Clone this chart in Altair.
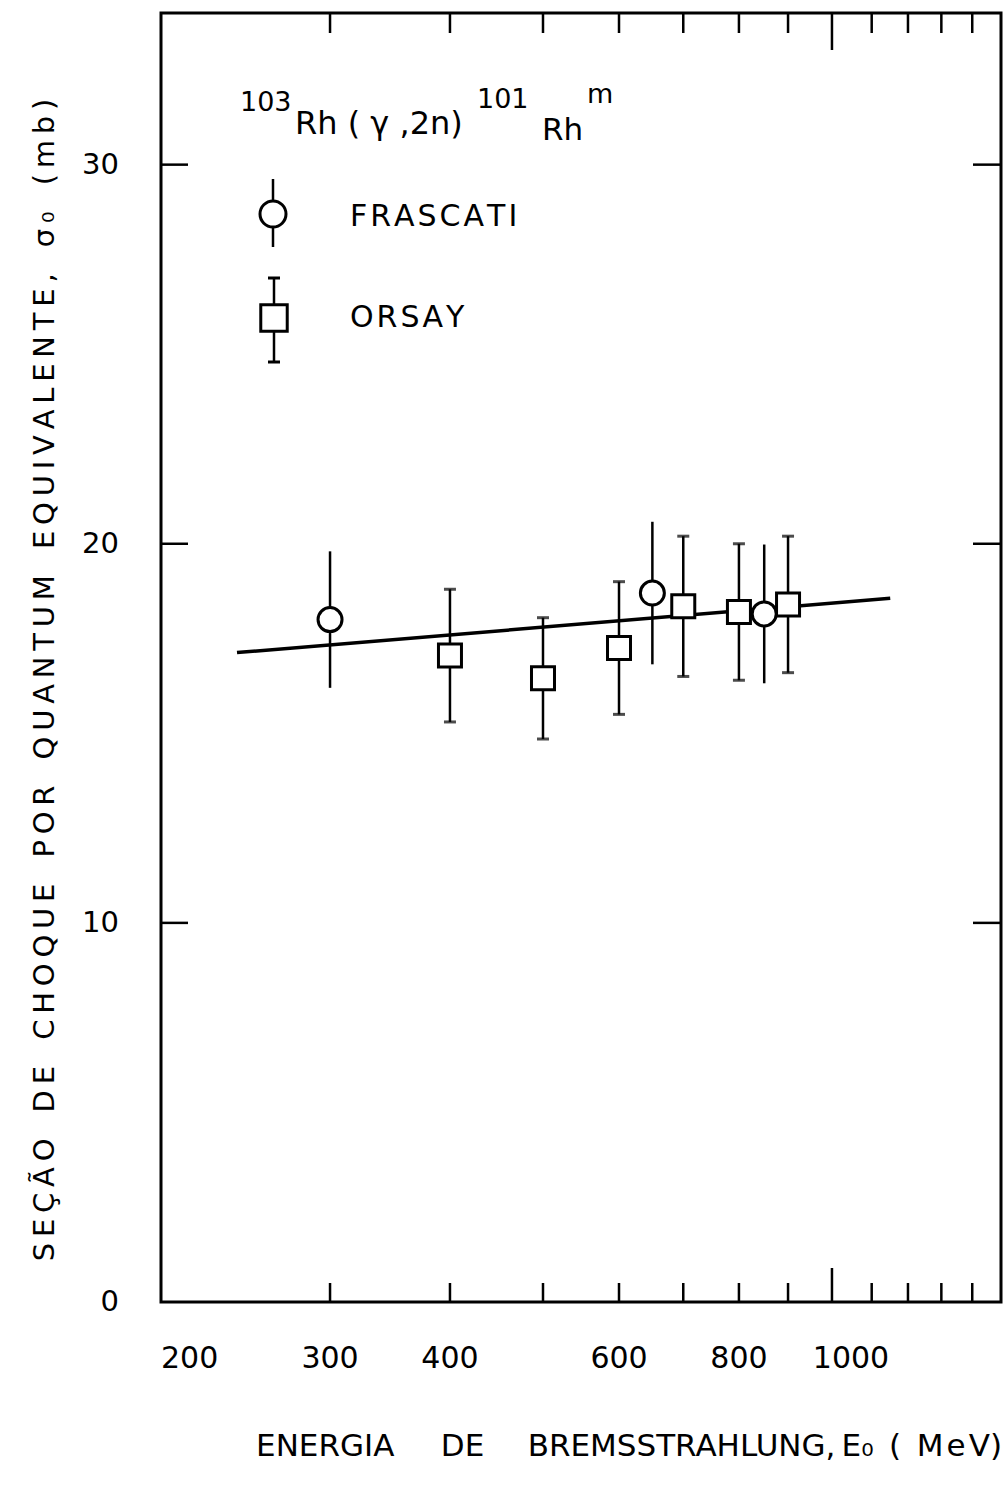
import altair as alt
import pandas as pd

# ---- data ----
fr_energy = [300, 650, 850]
fr_sigma = [18.0, 18.7, 18.15]
fr_err = [1.8, 1.88, 1.83]

or_energy = [400, 500, 600, 700, 800, 900]
or_sigma = [17.05, 16.45, 17.25, 18.35, 18.2, 18.4]
or_err = [1.75, 1.6, 1.75, 1.85, 1.8, 1.8]

fit_energy = [240, 1150]
fit_sigma = [17.13, 18.56]

x_label_values = [200, 300, 400, 600, 800, 1000]
x_minor_ticks = [300, 400, 500, 600, 700, 800, 900, 1100, 1200, 1300, 1400]
x_major_ticks = [1000]
y_label_values = [0, 10, 20, 30]
y_tick_values = [10, 20, 30]

HAIR, THIN, EN, EM = "\u200a", "\u2009", "\u2002", "\u2003"
y_title_words = ["SEÇÃO", "DE", "CHOQUE", "POR", "QUANTUM", "EQUIVALENTE,", "σ\u2080", "(mb)"]
y_title = (EN + THIN + THIN).join(THIN.join(w) for w in y_title_words)
x_title = ("ENERGIA" + EM + EN + "DE" + EM + THIN + THIN + "BREMSSTRAHLUNG," + THIN
           + "E\u2080" + EN + "(" + EN + HAIR.join("MeV") + ")")
legend_names = ["FRASCATI", "ORSAY"]

W, H = 840, 1289
FONT = "DejaVu Sans"

fr = pd.DataFrame({"energy": fr_energy, "sigma": fr_sigma, "err": fr_err})
fr["lo"] = fr["sigma"] - fr["err"]
fr["hi"] = fr["sigma"] + fr["err"]
orsay = pd.DataFrame({"energy": or_energy, "sigma": or_sigma, "err": or_err})
orsay["lo"] = orsay["sigma"] - orsay["err"]
orsay["hi"] = orsay["sigma"] + orsay["err"]
fit = pd.DataFrame({"energy": fit_energy, "sigma": fit_sigma})

xscale = alt.Scale(type="log", domain=[200, 1500], nice=False)
yscale = alt.Scale(domain=[0, 34], nice=False, zero=True)


def X(field="energy"):
    return alt.X(f"{field}:Q", scale=xscale, axis=None)


def Y(field="sigma"):
    return alt.Y(f"{field}:Q", scale=yscale, axis=None)


fit_line = alt.Chart(fit).mark_line(color="black", strokeWidth=3.5).encode(x=X(), y=Y())

fr_bars = alt.Chart(fr).mark_rule(color="black", strokeWidth=2.5).encode(x=X(), y=Y("lo"), y2="hi:Q")
or_bars = alt.Chart(orsay).mark_rule(color="black", strokeWidth=2.5).encode(x=X(), y=Y("lo"), y2="hi:Q")
or_cap_hi = alt.Chart(orsay).mark_tick(orient="horizontal", size=12, thickness=3, color="black").encode(
    x=X(), y=Y("hi"))
or_cap_lo = alt.Chart(orsay).mark_tick(orient="horizontal", size=12, thickness=3, color="black").encode(
    x=X(), y=Y("lo"))

fr_pts = alt.Chart(fr).mark_point(shape="circle", filled=True, fill="white", stroke="black",
                                  strokeWidth=3, size=576, opacity=1).encode(x=X(), y=Y())
or_pts = alt.Chart(orsay).mark_point(shape="square", filled=True, fill="white", stroke="black",
                                     strokeWidth=3, size=529, opacity=1).encode(x=X(), y=Y())

# ---- frame ticks (inward) ----
minor = pd.DataFrame({"energy": x_minor_ticks})
major = pd.DataFrame({"energy": x_major_ticks})
yt = pd.DataFrame({"sigma": y_tick_values})

tick_layers = [
    alt.Chart(minor).mark_rule(color="black", strokeWidth=2.5).encode(x=X(), y=alt.value(H), y2=alt.value(H - 19)),
    alt.Chart(major).mark_rule(color="black", strokeWidth=2.5).encode(x=X(), y=alt.value(H), y2=alt.value(H - 34)),
    alt.Chart(minor).mark_rule(color="black", strokeWidth=2.5).encode(x=X(), y=alt.value(0), y2=alt.value(20)),
    alt.Chart(major).mark_rule(color="black", strokeWidth=2.5).encode(x=X(), y=alt.value(0), y2=alt.value(37)),
    alt.Chart(yt).mark_rule(color="black", strokeWidth=2.5).encode(y=Y(), x=alt.value(0), x2=alt.value(27)),
    alt.Chart(yt).mark_rule(color="black", strokeWidth=2.5).encode(y=Y(), x=alt.value(W), x2=alt.value(W - 28)),
]

# ---- tick labels and axis titles ----
xl = pd.DataFrame({"energy": x_label_values})
yl = pd.DataFrame({"sigma": y_label_values})
xlab_common = dict(font=FONT, fontSize=30, baseline="top", color="black")
label_axis_layers = [
    alt.Chart(xl).transform_filter("datum.energy == 200").mark_text(align="left", **xlab_common).encode(
        x=X(), y=alt.value(H + 42), text="energy:N"),
    alt.Chart(xl).transform_filter("datum.energy > 200 && datum.energy < 1000").mark_text(
        align="center", **xlab_common).encode(x=X(), y=alt.value(H + 42), text="energy:N"),
    alt.Chart(xl).transform_filter("datum.energy == 1000").mark_text(
        align="center", dx=19, **xlab_common).encode(x=X(), y=alt.value(H + 42), text="energy:N"),
    alt.Chart(yl).mark_text(font=FONT, fontSize=29, align="right", baseline="middle", color="black").encode(
        y=Y(), x=alt.value(-42), text="sigma:N"),
]

one = pd.DataFrame({"k": [0]})
title_layers = [
    alt.Chart(one).mark_text(text=x_title, font=FONT, fontSize=31, align="right", baseline="middle",
                             color="black").encode(x=alt.value(841), y=alt.value(H + 145)),
    alt.Chart(one).mark_text(text=y_title, font=FONT, fontSize=29, align="center", baseline="middle",
                             angle=270, color="black").encode(x=alt.value(-116), y=alt.value(667)),
]

# ---- legend and reaction label ----
legend_layers = [
    alt.Chart(one).mark_rule(color="black", strokeWidth=2.5).encode(
        x=alt.value(112), y=alt.value(166), y2=alt.value(234)),
    alt.Chart(one).mark_point(shape="circle", filled=True, fill="white", stroke="black",
                              strokeWidth=3, size=676, opacity=1).encode(x=alt.value(112), y=alt.value(201)),
    alt.Chart(one).mark_rule(color="black", strokeWidth=2.5).encode(
        x=alt.value(113), y=alt.value(265), y2=alt.value(349)),
    alt.Chart(one).mark_rule(color="black", strokeWidth=3).encode(
        x=alt.value(107), x2=alt.value(119), y=alt.value(265)),
    alt.Chart(one).mark_rule(color="black", strokeWidth=3).encode(
        x=alt.value(107), x2=alt.value(119), y=alt.value(349)),
    alt.Chart(one).mark_point(shape="square", filled=True, fill="white", stroke="black",
                              strokeWidth=3, size=700, opacity=1).encode(x=alt.value(113), y=alt.value(305)),
    alt.Chart(one).mark_text(text=HAIR.join(legend_names[0]), font=FONT, fontSize=30, align="left",
                             baseline="middle", color="black").encode(x=alt.value(189), y=alt.value(204)),
    alt.Chart(one).mark_text(text=HAIR.join(legend_names[1]), font=FONT, fontSize=30, align="left",
                             baseline="middle", color="black").encode(x=alt.value(189), y=alt.value(305)),
]

label_parts = [("103", 79, 98, 27), ("Rh ( γ ,2n)", 134, 121, 32), ("101", 316, 95, 27),
               ("Rh", 381, 127, 31), ("m", 426, 90, 27)]
label_layers = [
    alt.Chart(one).mark_text(text=t, font=FONT, fontSize=fs, align="left", baseline="alphabetic",
                             color="black").encode(x=alt.value(px), y=alt.value(py))
    for t, px, py, fs in label_parts
]

chart = alt.layer(
    fit_line, fr_bars, or_bars, or_cap_hi, or_cap_lo, fr_pts, or_pts,
    *tick_layers, *label_axis_layers, *title_layers, *legend_layers, *label_layers,
).properties(
    width=W, height=H,
    autosize=alt.AutoSizeParams(type="none"),
    padding={"left": 161, "top": 13, "right": 5, "bottom": 190},
    background="white",
).configure_view(stroke="black", strokeWidth=3)

chart.save("out.html", embed_options={"renderer": "svg", "actions": False})
